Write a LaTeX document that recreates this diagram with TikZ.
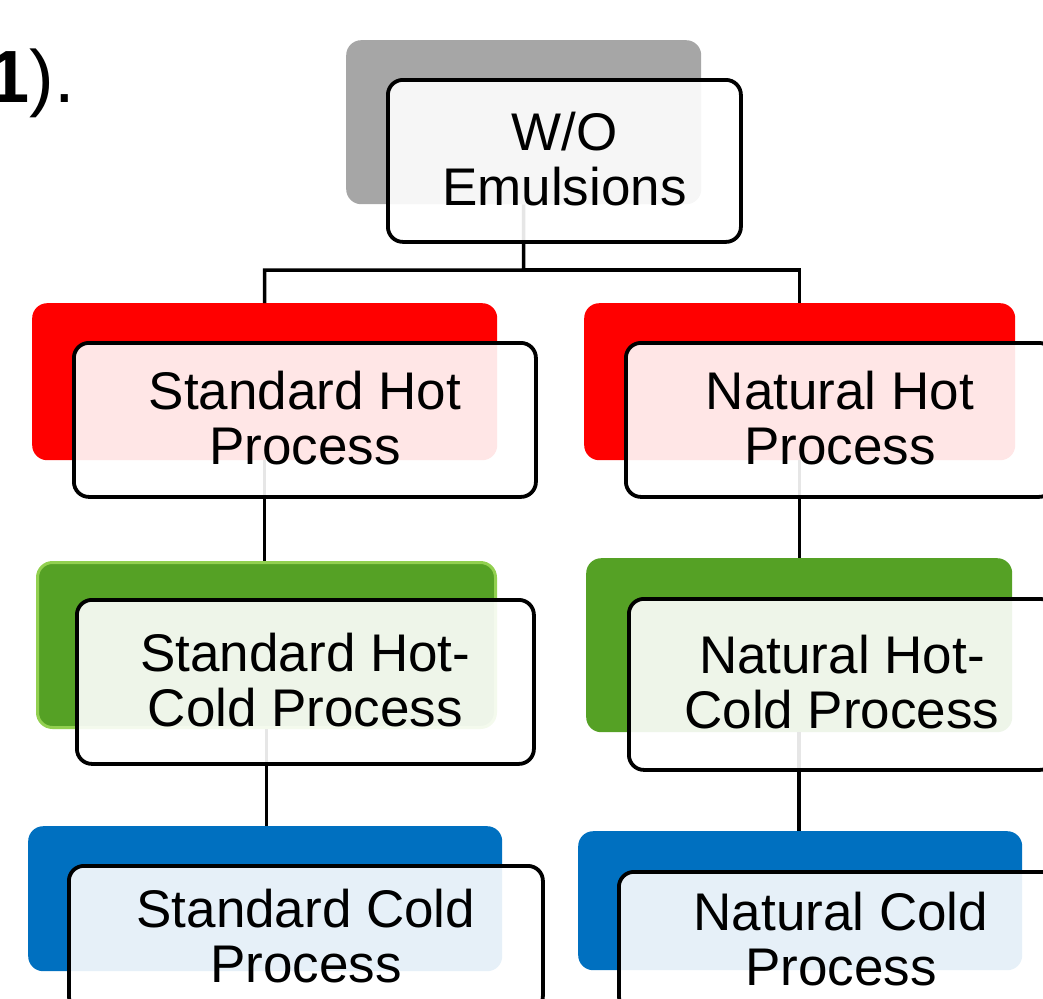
\documentclass[tikz,border=0pt]{standalone}
\usepackage{fontspec}
\setmainfont{Liberation Sans}
\definecolor{sagray}{HTML}{A6A6A6}
\definecolor{sared}{HTML}{FF0000}
\definecolor{sagreen}{HTML}{55A125}
\definecolor{saedge}{HTML}{92D050}
\definecolor{sablue}{HTML}{0070C0}
\begin{document}
\begin{tikzpicture}[x=1pt,y=-1pt,
  back/.style={rounded corners=15pt, inner sep=0pt, anchor=north west, draw=none},
  front/.style={rounded corners=15pt, inner sep=0pt, anchor=north west, draw=black,
    line width=3.8pt, fill=white, fill opacity=0.9, text opacity=1, align=center,
    text height=95pt, text depth=6pt,
    font=\fontsize{53}{55}\selectfont},
  conn/.style={line width=3.5pt, draw=black}]
\useasboundingbox (0,0) rectangle (1043,998);
\clip (0,0) rectangle (1043,998);

% stray text
\node[inner sep=0pt, anchor=base east, font=\fontsize{74}{80}\selectfont] (lbl) at (75,102) {\textbf{1}).};

% back boxes
\node[back, fill=sagray, minimum width=355pt, minimum height=164pt] (b0) at (346,40) {};
\node[back, fill=sared, minimum width=465pt, minimum height=157pt] (b1) at (32,303) {};
\node[back, fill=sared, minimum width=431pt, minimum height=157pt] (b2) at (584,303) {};
\node[back, fill=sagreen, draw=saedge, line width=3pt, minimum width=458pt, minimum height=165pt] (b3) at (36,561) {};
\node[back, fill=sagreen, minimum width=426pt, minimum height=174pt] (b4) at (586,558) {};
\node[back, fill=sablue, minimum width=474pt, minimum height=145pt] (b5) at (28,826) {};
\node[back, fill=sablue, minimum width=444pt, minimum height=139pt] (b6) at (578,831) {};

% connectors
\coordinate (j0) at (523.5,270);
\draw[conn] (b0.south) -- (j0) -| (b1.north);
\draw[conn] (j0) -| (b2.north);
\draw[conn] (b1.south) -- (b1.south |- b3.north);
\draw[conn] (b3.south) -- (b3.south |- b5.north);
\draw[conn] (b2.south) -- (b2.south |- b4.north);
\draw[conn] (b4.south) -- (b4.south |- b6.north);

% front boxes
\node[front, minimum width=353pt, minimum height=162pt] (f0) at (386,78) {W/O\\Emulsions};
\node[front, minimum width=462pt, minimum height=154pt] (f1) at (72,341) {Standard Hot\\Process};
\node[front, minimum width=428pt, minimum height=154pt] (f2) at (624,341) {Natural Hot\\Process};
\node[front, minimum width=457pt, minimum height=164pt] (f3) at (75,598) {Standard Hot-\\Cold Process};
\node[front, minimum width=426pt, minimum height=171pt] (f4) at (627,597) {Natural Hot-\\Cold Process};
\node[front, minimum width=474pt, minimum height=145pt] (f5) at (67,864) {Standard Cold\\Process};
\node[front, minimum width=444pt, minimum height=139pt] (f6) at (617,870) {Natural Cold\\Process};
\end{tikzpicture}
\end{document}
